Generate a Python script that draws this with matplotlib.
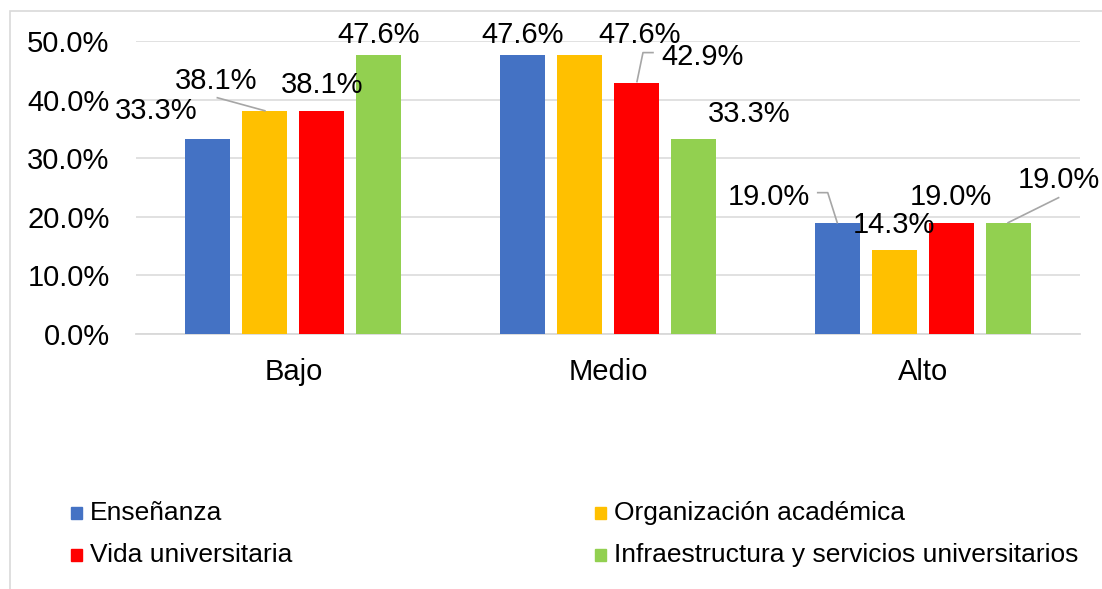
import numpy as np
import matplotlib
matplotlib.use("Agg")
import matplotlib.pyplot as plt
from matplotlib.patches import Rectangle
from matplotlib.transforms import IdentityTransform

plt.rcParams["font.family"] = ["Liberation Sans", "DejaVu Sans"]

# datos
niveles = ["Bajo", "Medio", "Alto"]
series = ["Enseñanza", "Organización académica", "Vida universitaria",
          "Infraestructura y servicios universitarios"]
colores = ["#4472C4", "#FFC000", "#FF0000", "#92D050"]
ensenanza = [33.3, 47.6, 19.0]
organizacion = [38.1, 47.6, 14.3]
vida = [38.1, 42.9, 19.0]
infraestructura = [47.6, 33.3, 19.0]
valores = [ensenanza, organizacion, vida, infraestructura]

# desplazamiento de cada etiqueta respecto al extremo de la barra (px)
offs_etiquetas = [
    [(-51.5, 20), (0, 12), (-68.5, 18)],
    [(-48.5, 22), (60.5, 12), (0, 17)],
    [(0, 18), (66.5, 18), (0, 18)],
    [(0, 12), (55.5, 17), (50.5, 35)],
]
# líneas guía (serie, nivel, puntos en px respecto al extremo de la barra)
guias = [
    (1, 0, [(-47.5, 13), (0, 0)]),
    (2, 1, [(16.5, 30), (6.5, 30), (0.5, 1)]),
    (0, 2, [(-19.5, 30), (-9.5, 30), (0, 0)]),
    (3, 2, [(50.5, 25), (0, 0)]),
]

W, H = 1102, 589
fig = plt.figure(figsize=(W / 100, H / 100), dpi=100)
ax = fig.add_axes([136 / W, (H - 334) / H, 944 / W, 293 / H])

x = np.arange(len(niveles))
ancho = 0.143
paso = 0.181
for i, (nombre, col, vals) in enumerate(zip(series, colores, valores)):
    xs = x + (i - 1.5) * paso
    ax.bar(xs, vals, width=ancho, color=col, label=nombre, zorder=3)

ax.set_xlim(-0.5, 2.5)
ax.set_ylim(0, 50)
ax.set_yticks(np.arange(0, 51, 10))
ax.set_yticklabels([f"{v:.1f}%" for v in np.arange(0, 51, 10)])
ax.set_xticks(x)
ax.set_xticklabels(niveles)
ax.tick_params(axis="both", length=0, labelsize=21)
ax.tick_params(axis="y", pad=19)
ax.tick_params(axis="x", pad=17)
ax.grid(axis="y", color="#d9d9d9", lw=1.1, zorder=0)
for s in ["top", "right", "left"]:
    ax.spines[s].set_visible(False)
ax.spines["bottom"].set_color("#d9d9d9")
ax.spines["bottom"].set_linewidth(1.3)

# etiquetas de datos
for i, vals in enumerate(valores):
    for j, v in enumerate(vals):
        xb = x[j] + (i - 1.5) * paso
        dx, dy = offs_etiquetas[i][j]
        ax.annotate(f"{v:.1f}%", xy=(xb, v), xytext=(dx, dy),
                    textcoords="offset pixels", ha="center", va="baseline",
                    fontsize=21, color="#000000", annotation_clip=False, zorder=5)

# líneas guía
fig.canvas.draw()
for i, j, pts in guias:
    xb = x[j] + (i - 1.5) * paso
    px, py = ax.transData.transform((xb, valores[i][j]))
    xs_l = [px + p[0] for p in pts]
    ys_l = [py + p[1] for p in pts]
    ax.plot(xs_l, ys_l, color="#a6a6a6", lw=1.2, transform=IdentityTransform(),
            clip_on=False, zorder=4)

# leyenda
pos_leyenda = [(71, 513), (595, 513), (71, 555), (595, 555)]
for nombre, col, (lx, ly) in zip(series, colores, pos_leyenda):
    fig.add_artist(Rectangle((lx / W, 1 - (ly + 6) / H), 11 / W, 12 / H,
                             transform=fig.transFigure, color=col))
    fig.text((lx + 19) / W, 1 - (ly + 7) / H, nombre, fontsize=19,
             ha="left", va="baseline")

# marco
fig.add_artist(Rectangle((10 / W, -0.05), 1.1, 1 - 11 / H + 0.05,
                         transform=fig.transFigure, fill=False,
                         edgecolor="#d9d9d9", lw=1.2))

fig.savefig("out.png", dpi=100)
